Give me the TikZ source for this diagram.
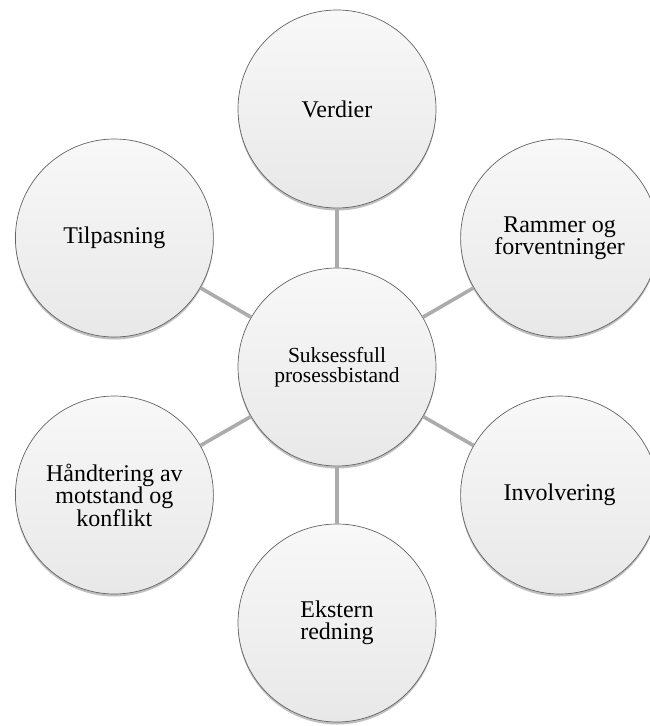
\documentclass[tikz,border=0pt]{standalone}
\usepackage{fontspec}
\setmainfont{Liberation Serif}
\usetikzlibrary{shadows}
\definecolor{linkgray}{RGB}{172,172,172}
\definecolor{rimgray}{RGB}{100,100,100}
\definecolor{topfill}{RGB}{248,248,248}
\definecolor{botfill}{RGB}{232,232,232}
\tikzset{
  bubble/.style={circle, minimum size=198pt, inner sep=0pt, draw=rimgray, line width=0.7pt,
    top color=topfill, bottom color=botfill, align=center,
    drop shadow={shadow xshift=0pt, shadow yshift=-2.5pt, opacity=0.25, fill=black},
    font=\fontsize{24}{22.5}\selectfont},
  hub/.style={bubble, font=\fontsize{21.5}{20.5}\selectfont},
  link/.style={draw=linkgray, line width=3.6pt}
}
\begin{document}
\begin{tikzpicture}[x=1pt, y=-1pt]
\useasboundingbox (0,0) rectangle (650,726);
\clip (0,0) rectangle (650,726);
\fill[white] (0,0) rectangle (650,726);
\node[hub] (c) at (337,367) {Suksessfull\\prosessbistand};
\node[bubble] (v) at (337,109) {Verdier};
\node[bubble] (r) at (559.6,238) {Rammer og\\forventninger};
\node[bubble] (i) at (559.6,495) {Involvering};
\node[bubble] (e) at (337,623) {Ekstern\\redning};
\node[bubble] (h) at (114.4,495) {Håndtering av\\motstand og\\konflikt};
\node[bubble] (t) at (114.4,238) {Tilpasning};
\foreach \n in {v,r,i,e,h,t}{\draw[link] (c) -- (\n);}
\end{tikzpicture}
\end{document}
